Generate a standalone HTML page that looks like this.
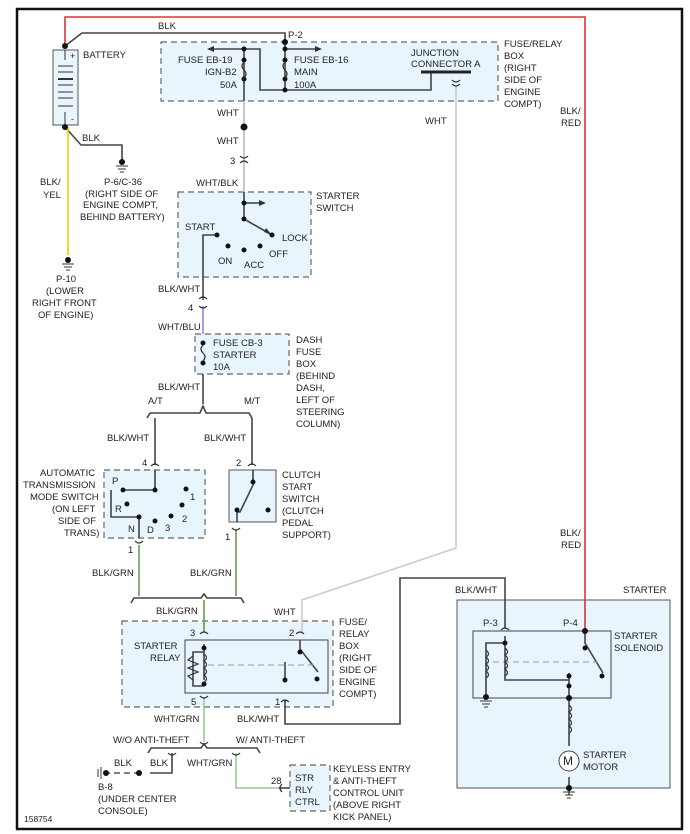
<!DOCTYPE html>
<html><head><meta charset="utf-8"><style>
body{margin:0;background:#fff}
svg{display:block;font-family:"Liberation Sans",sans-serif;font-size:9.5px}
text{fill:#222}
</style></head><body>
<svg width="690" height="834" viewBox="0 0 690 834">
<rect x="17" y="9" width="665" height="820" fill="#fff" stroke="#111" stroke-width="2.5"/>
<!-- boxes -->
<g stroke="#666" stroke-width="1.2" stroke-dasharray="6,4" fill="#e9f5fd">
<rect x="161" y="42" width="337" height="59"/>
<rect x="178" y="192" width="133" height="85"/>
<rect x="195" y="334" width="94" height="40"/>
<rect x="104" y="470" width="101" height="68"/>
<rect x="122" y="621" width="211" height="86"/>
<rect x="290" y="765" width="40" height="46"/>
</g>
<rect x="229" y="470" width="47" height="52" fill="#e9f5fd" stroke="#555"/>
<rect x="457" y="600" width="213" height="188" fill="#e9f5fd" stroke="#555"/>
<rect x="473" y="631" width="138" height="67" fill="#e9f5fd" stroke="#444"/>
<rect x="185" y="640" width="143" height="53" fill="#e9f5fd" stroke="#444"/>
<!-- red wire -->
<polyline points="65,46 65,17 585,17 585,631" fill="none" stroke="#d33" stroke-width="1.6"/>
<!-- wires dark -->
<g fill="none" stroke="#444" stroke-width="1.6">
<polyline points="65,46 82,33 285,33 285,90"/>
<polyline points="244,49 260,49 260,90 431,90 431,72"/>
<line x1="244" y1="49" x2="244" y2="101"/>
<line x1="244" y1="49" x2="212" y2="49"/><line x1="285" y1="49" x2="316" y2="49"/>
<polyline points="65,127 81,145 122,145 122,160"/>
<polyline points="217,235 203,235 203,300"/>
<polyline points="244,192 244,219 272,235"/><line x1="244" y1="203" x2="260" y2="203"/>
<line x1="203" y1="374" x2="203" y2="404"/>
<polyline points="147,418 150,413 200,413 203,406 206,413 249,413 252,418"/>
<line x1="155" y1="418" x2="155" y2="465"/><line x1="252" y1="418" x2="252" y2="465"/>
<polyline points="155,470 155,490 124,490"/>
<polyline points="111,490 111,517 139,517 139,538"/>
<polyline points="253,470 253,485 240,512 237,512 237,522"/>
<polyline points="131,603 134,598 201,598 204,594 207,598 241,598 244,603"/>
<polyline points="148,753 151,748 201,748 204,744 207,748 257,748 260,753"/>
<polyline points="172,753 172,773 150,773"/>
<polyline points="285,700 285,724 400,724 400,578 505,578 505,628"/>
<polyline points="300,640 300,649 318,672"/><line x1="285" y1="662" x2="285" y2="678"/>
<polyline points="204,644 204,680"/><polyline points="204,652 193,652 193,686 204,686"/>
<polyline points="585,631 585,643 603,673"/>
<polyline points="505,636 505,680 569,680"/><polyline points="505,643 486,643 486,697"/>
<polyline points="569,673 569,746"/><line x1="569" y1="777" x2="569" y2="795"/>
<line x1="279" y1="788" x2="290" y2="788"/>
</g>
<g fill="#333"><polygon points="207,49 214,46 214,52"/><polygon points="322,49 315,46 315,52"/><polygon points="266,203 259,200 259,206"/><polygon points="272,235 264,232 266,228"/></g>
<line x1="244" y1="101" x2="244" y2="192" stroke="#bbb" stroke-width="1.6"/>
<polyline points="456,86 456,548 302,600 302,632" fill="none" stroke="#ccc" stroke-width="1.6"/>
<line x1="203" y1="306" x2="203" y2="334" stroke="#8888ee" stroke-width="1.6"/>
<line x1="68" y1="127" x2="68" y2="255" stroke="#e6d000" stroke-width="1.6"/>
<g stroke="#6a9a50" stroke-width="1.6" fill="none"><line x1="139" y1="545" x2="139" y2="596"/><line x1="236" y1="530" x2="236" y2="596"/><line x1="204" y1="600" x2="204" y2="632"/></g>
<g stroke="#9c9" stroke-width="1.6" fill="none"><line x1="204" y1="697" x2="204" y2="742"/><polyline points="236,753 236,788 279,788"/></g>
<line x1="140" y1="773" x2="105" y2="773" stroke="#555" stroke-width="1.6" stroke-dasharray="6,4"/>
<line x1="208" y1="665" x2="315" y2="665" stroke="#999" stroke-dasharray="6,4"/>
<line x1="493" y1="662" x2="598" y2="662" stroke="#999" stroke-dasharray="6,4"/>
<!-- battery -->
<rect x="53" y="50" width="25" height="75" fill="#e9f5fd" stroke="#555"/>
<g stroke="#333"><line x1="58" y1="66" x2="73" y2="66"/><line x1="58" y1="72" x2="73" y2="72"/><line x1="58" y1="79" x2="73" y2="79" stroke-width="2"/><line x1="58" y1="85" x2="73" y2="85"/><line x1="58" y1="92" x2="73" y2="92"/><line x1="58" y1="98" x2="73" y2="98"/><line x1="58" y1="106" x2="73" y2="106"/><line x1="65" y1="50" x2="65" y2="60"/><line x1="65" y1="112" x2="65" y2="125"/></g>
<text x="70" y="59" font-size="9">+</text><text x="71" y="122" font-size="9">-</text>
<!-- bar -->
<line x1="421" y1="72" x2="471" y2="72" stroke="#222" stroke-width="3"/>
<!-- dots -->
<g fill="#111">
<circle cx="65" cy="46" r="3"/><circle cx="65" cy="127" r="3"/><circle cx="285" cy="42" r="3"/>
<circle cx="244" cy="49" r="2.5"/><circle cx="244" cy="60" r="2.5"/><circle cx="244" cy="79" r="2.5"/>
<circle cx="285" cy="49" r="2.5"/><circle cx="285" cy="60" r="2.5"/><circle cx="285" cy="79" r="2.5"/><circle cx="285" cy="90" r="2.5"/>
<circle cx="244" cy="127" r="3.5"/>
<circle cx="244" cy="203" r="2.5"/><circle cx="244" cy="219" r="2.5"/><circle cx="272" cy="235" r="2.5"/><circle cx="217" cy="235" r="2.5"/><circle cx="228" cy="246" r="2.5"/><circle cx="244" cy="250" r="2.5"/><circle cx="260" cy="246" r="2.5"/>
<circle cx="203" cy="343" r="2.5"/><circle cx="203" cy="363" r="2.5"/>
<circle cx="123" cy="490" r="2.5"/><circle cx="155" cy="490" r="2.5"/><circle cx="186" cy="489" r="2.5"/><circle cx="127" cy="504" r="2.5"/><circle cx="182" cy="505" r="2.5"/><circle cx="139" cy="517" r="2.5"/><circle cx="171" cy="516" r="2.5"/><circle cx="155" cy="521" r="2.5"/>
<circle cx="253" cy="482" r="2.5"/><circle cx="237" cy="510" r="2.5"/><circle cx="268" cy="510" r="2.5"/>
<circle cx="204" cy="648" r="2.5"/><circle cx="204" cy="684" r="2.5"/><circle cx="300" cy="652" r="2.5"/><circle cx="317" cy="679" r="2.5"/><circle cx="285" cy="680" r="2.5"/>
<circle cx="585" cy="631" r="3"/><circle cx="585" cy="648" r="2.5"/><circle cx="602" cy="676" r="2.5"/><circle cx="569" cy="676" r="2.5"/><circle cx="569" cy="686" r="2.5"/><circle cx="569" cy="698" r="3"/><circle cx="505" cy="643" r="2.5"/><circle cx="486" cy="697" r="3"/><circle cx="569" cy="788" r="3"/>
<circle cx="122" cy="162" r="3"/><circle cx="68" cy="260" r="3"/><circle cx="139" cy="773" r="3"/><circle cx="106" cy="773" r="3"/>
</g>
<!-- grounds -->
<g stroke="#333"><line x1="116" y1="166" x2="128" y2="166"/><line x1="118" y1="169" x2="126" y2="169"/><line x1="120" y1="172" x2="124" y2="172"/>
<line x1="62" y1="264" x2="74" y2="264"/><line x1="64" y1="267" x2="72" y2="267"/><line x1="66" y1="270" x2="70" y2="270"/>
<line x1="480" y1="701" x2="492" y2="701"/><line x1="482" y1="704" x2="490" y2="704"/><line x1="484" y1="707" x2="488" y2="707"/>
<line x1="563" y1="792" x2="575" y2="792"/><line x1="565" y1="795" x2="573" y2="795"/><line x1="567" y1="798" x2="571" y2="798"/>
<line x1="101" y1="767" x2="101" y2="779"/><line x1="98" y1="769" x2="98" y2="777"/></g>
<!-- fuses / coils -->
<g fill="none" stroke="#333" stroke-width="1.2">
<path d="M244,62 q-4,4 0,8 q4,4 0,8"/><path d="M285,62 q-4,4 0,8 q4,4 0,8"/><path d="M203,345 q-4,4 0,8 q4,4 0,8"/>
<path d="M204,654 q5,4 0,7 q5,4 0,7 q5,4 0,7 q5,4 0,7"/><path d="M193,656 l-5,4 l10,4 l-10,4 l10,4 l-10,4 l5,4"/>
<path d="M505,648 q5,4 0,7 q5,4 0,7 q5,4 0,7 q5,4 0,7"/><path d="M486,650 q5,4 0,7 q5,4 0,7 q5,4 0,7 q5,4 0,7"/>
<path d="M569,705 q5,4 0,7 q5,4 0,7 q5,4 0,7 q5,4 0,7"/>
<path d="M240,156 q4,4 8,0 M240,163 q4,-4 8,0"/><path d="M199,299 q4,-4 8,0 M199,306 q4,4 8,0"/>
<path d="M151,466 q4,-4 8,0 M248,466 q4,-4 8,0 M135,541 q4,4 8,0 M232,528 q4,4 8,0"/>
<path d="M200,634 q4,-4 8,0 M296,634 q4,-4 8,0 M200,696 q4,4 8,0 M281,702 q4,-4 8,0"/>
<path d="M452,84 q4,4 8,0 M452,80 q4,4 8,0"/><path d="M501,630 q4,-4 8,0"/>
<path d="M282,784 q-4,4 0,8"/>
<path d="M168,753 q4,4 8,0 M232,753 q4,4 8,0 M200,742 q4,4 8,0"/>
</g>
<circle cx="569" cy="761" r="10" fill="#fff" stroke="#444"/>
<text x="563" y="765" font-size="12">M</text>
<!-- labels -->
<text x="158" y="29">BLK</text><text x="288" y="38">P-2</text>
<text x="83" y="58">BATTERY</text>
<text x="178" y="63">FUSE EB-19</text><text x="205" y="75">IGN-B2</text><text x="220" y="88">50A</text>
<text x="294" y="63">FUSE EB-16</text><text x="294" y="75">MAIN</text><text x="294" y="88">100A</text>
<text x="411" y="56">JUNCTION</text><text x="411" y="67">CONNECTOR A</text>
<text x="504" y="47">FUSE/RELAY</text><text x="504" y="59">BOX</text><text x="504" y="71">(RIGHT</text><text x="504" y="83">SIDE OF</text><text x="504" y="95">ENGINE</text><text x="504" y="107">COMPT)</text>
<text x="560" y="114">BLK/</text><text x="561" y="126">RED</text>
<text x="425" y="124">WHT</text>
<text x="217" y="116">WHT</text><text x="217" y="144">WHT</text><text x="230" y="164">3</text>
<text x="82" y="141">BLK</text>
<text x="104" y="185">P-6/C-36</text><text x="85" y="197">(RIGHT SIDE OF</text><text x="83" y="208">ENGINE COMPT,</text><text x="80" y="220">BEHIND BATTERY)</text>
<text x="40" y="185">BLK/</text><text x="43" y="198">YEL</text>
<text x="56" y="282">P-10</text><text x="46" y="294">(LOWER</text><text x="32" y="306">RIGHT FRONT</text><text x="38" y="318">OF ENGINE)</text>
<text x="196" y="186">WHT/BLK</text><text x="316" y="199">STARTER</text><text x="316" y="211">SWITCH</text>
<text x="185" y="230">START</text><text x="282" y="241">LOCK</text><text x="269" y="257">OFF</text><text x="218" y="264">ON</text><text x="244" y="268">ACC</text>
<text x="158" y="292">BLK/WHT</text><text x="188" y="311">4</text><text x="158" y="330">WHT/BLU</text>
<text x="213" y="346">FUSE CB-3</text><text x="213" y="358">STARTER</text><text x="213" y="370">10A</text>
<text x="296" y="343">DASH</text><text x="296" y="355">FUSE</text><text x="296" y="367">BOX</text><text x="296" y="379">(BEHIND</text><text x="296" y="391">DASH,</text><text x="296" y="403">LEFT OF</text><text x="296" y="415">STEERING</text><text x="296" y="427">COLUMN)</text>
<text x="158" y="390">BLK/WHT</text><text x="148" y="404">A/T</text><text x="244" y="404">M/T</text>
<text x="107" y="441">BLK/WHT</text><text x="204" y="441">BLK/WHT</text>
<text x="142" y="466">4</text><text x="236" y="466">2</text>
<text x="40" y="476">AUTOMATIC</text><text x="23" y="488">TRANSMISSION</text><text x="30" y="500">MODE SWITCH</text><text x="52" y="512">(ON LEFT</text><text x="58" y="524">SIDE OF</text><text x="64" y="536">TRANS)</text>
<text x="112" y="484">P</text><text x="115" y="512">R</text><text x="128" y="532">N</text><text x="147" y="533">D</text><text x="165" y="531">3</text><text x="182" y="522">2</text><text x="190" y="500">1</text>
<text x="282" y="478">CLUTCH</text><text x="282" y="490">START</text><text x="282" y="502">SWITCH</text><text x="282" y="514">(CLUTCH</text><text x="282" y="526">PEDAL</text><text x="282" y="538">SUPPORT)</text>
<text x="128" y="553">1</text><text x="225" y="540">1</text>
<text x="92" y="576">BLK/GRN</text><text x="190" y="576">BLK/GRN</text>
<text x="156" y="614">BLK/GRN</text><text x="274" y="615">WHT</text>
<text x="190" y="636">3</text><text x="289" y="636">2</text>
<text x="134" y="649">STARTER</text><text x="150" y="661">RELAY</text>
<text x="339" y="625">FUSE/</text><text x="339" y="637">RELAY</text><text x="339" y="649">BOX</text><text x="339" y="661">(RIGHT</text><text x="339" y="673">SIDE OF</text><text x="339" y="685">ENGINE</text><text x="339" y="697">COMPT)</text>
<text x="191" y="705">5</text><text x="275" y="705">1</text>
<text x="154" y="722">WHT/GRN</text><text x="237" y="722">BLK/WHT</text>
<text x="113" y="743">W/O ANTI-THEFT</text><text x="236" y="743">W/ ANTI-THEFT</text>
<text x="114" y="766">BLK</text><text x="150" y="766">BLK</text><text x="187" y="766">WHT/GRN</text>
<text x="98" y="790">B-8</text><text x="98" y="802">(UNDER CENTER</text><text x="98" y="814">CONSOLE)</text>
<text x="271" y="784">28</text>
<text x="295" y="781">STR</text><text x="295" y="793">RLY</text><text x="295" y="805">CTRL</text>
<text x="333" y="772">KEYLESS ENTRY</text><text x="333" y="784">&amp; ANTI-THEFT</text><text x="333" y="796">CONTROL UNIT</text><text x="333" y="808">(ABOVE RIGHT</text><text x="333" y="820">KICK PANEL)</text>
<text x="24" y="822" font-size="8.5">158754</text>
<text x="560" y="536">BLK/</text><text x="561" y="548">RED</text>
<text x="455" y="593">BLK/WHT</text><text x="623" y="593">STARTER</text>
<text x="483" y="626">P-3</text><text x="563" y="626">P-4</text>
<text x="614" y="639">STARTER</text><text x="614" y="651">SOLENOID</text>
<text x="583" y="758">STARTER</text><text x="583" y="770">MOTOR</text>
</svg>
</body></html>
